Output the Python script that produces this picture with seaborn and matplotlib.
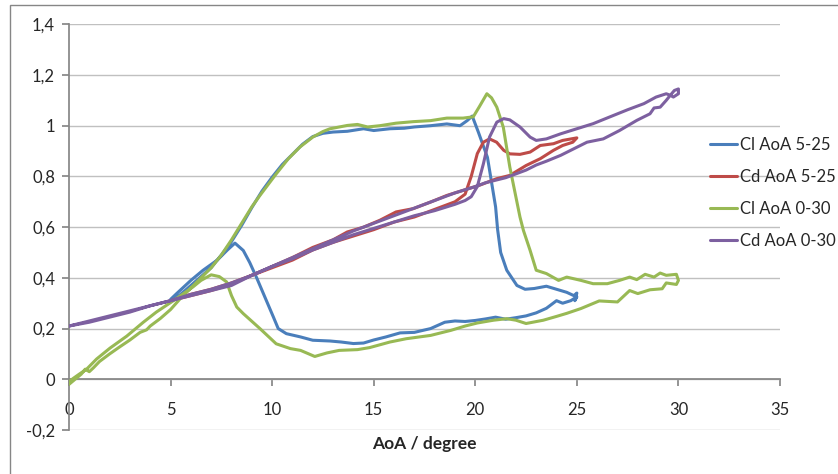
import numpy as np
import pandas as pd
import matplotlib
matplotlib.use("Agg")
import matplotlib.pyplot as plt
import seaborn as sns
from matplotlib.patches import Rectangle

# Cl, pitching 5-25 deg (blue)
cl_5_25_aoa = [5.0, 5.5, 6.0, 6.5, 7.0, 7.5, 8.0, 8.5, 9.0, 9.5, 10.0, 10.5, 11.0, 11.5,
               12.0, 12.5, 13.0, 13.7, 14.5, 15.0, 15.8, 16.5, 17.0, 17.8, 18.6, 19.25,
               19.6, 19.85, 20.15, 20.6, 21.0, 21.1, 21.25, 21.55, 22.05, 22.45, 22.9,
               23.5, 24.0, 24.5, 24.85, 25.0, 24.9, 25.0, 24.7, 24.3, 24.0, 23.5, 23.0,
               22.5, 22.0, 21.5, 21.0, 20.5, 20.0, 19.5, 19.0, 18.5, 17.8, 17.0, 16.3,
               15.6, 15.0, 14.5, 14.0, 13.4, 12.85, 12.0, 11.4, 10.7, 10.3, 10.06, 9.57,
               9.24, 8.9, 8.58, 8.17, 7.8, 7.3, 6.6, 6.0, 5.3, 5.0]
cl_5_25 = [0.305, 0.335, 0.37, 0.405, 0.44, 0.49, 0.543, 0.607, 0.677, 0.742, 0.797, 0.847,
           0.887, 0.927, 0.957, 0.97, 0.975, 0.978, 0.988, 0.981, 0.988, 0.99, 0.995, 1.0,
           1.007, 1.0, 1.02, 1.038, 0.975, 0.875, 0.68, 0.59, 0.50, 0.43, 0.37, 0.355,
           0.358, 0.367, 0.355, 0.343, 0.33, 0.34, 0.31, 0.325, 0.31, 0.30, 0.31, 0.28,
           0.262, 0.25, 0.243, 0.237, 0.245, 0.238, 0.232, 0.228, 0.23, 0.225, 0.20,
           0.185, 0.183, 0.167, 0.155, 0.143, 0.141, 0.147, 0.151, 0.154, 0.167, 0.18,
           0.20, 0.246, 0.338, 0.40, 0.46, 0.508, 0.537, 0.51, 0.47, 0.43, 0.39, 0.338,
           0.315]

# Cd, pitching 5-25 deg (red)
cd_5_25_aoa = [5.0, 6.0, 7.0, 8.0, 9.0, 10.0, 11.0, 12.0, 13.0, 14.0, 15.0, 16.0, 17.0,
               18.0, 19.0, 19.5, 19.8, 20.1, 20.4, 20.7, 21.05, 21.4, 21.7, 22.2, 22.7,
               23.2, 23.85, 24.3, 25.0, 24.8, 24.3, 23.85, 23.2, 22.5, 21.7, 21.05, 20.2,
               19.4, 18.6, 17.8, 16.95, 16.1, 15.3, 14.5, 13.7, 13.0, 12.0, 11.0, 10.0,
               9.0, 8.0, 7.0, 6.0, 5.2]
cd_5_25 = [0.31, 0.33, 0.35, 0.375, 0.41, 0.44, 0.47, 0.51, 0.54, 0.565, 0.59, 0.62,
           0.64, 0.67, 0.70, 0.73, 0.80, 0.89, 0.935, 0.948, 0.935, 0.903, 0.889, 0.887,
           0.896, 0.922, 0.929, 0.942, 0.952, 0.935, 0.922, 0.903, 0.87, 0.843, 0.804,
           0.791, 0.765, 0.745, 0.725, 0.699, 0.673, 0.66, 0.627, 0.60, 0.581, 0.55,
           0.52, 0.48, 0.445, 0.41, 0.38, 0.355, 0.335, 0.315]

# Cl, pitching 0-30 deg (green)
cl_0_30_aoa = [0.0, 0.3, 0.6, 0.8, 1.0, 1.2, 1.5, 2.0, 2.5, 3.0, 3.5, 3.82, 4.0, 4.5,
               5.0, 5.5, 6.0, 6.5, 7.0, 7.5, 8.0, 8.5, 9.0, 9.4, 10.2, 10.8, 11.37, 12.0,
               12.5, 12.85, 13.7, 14.2, 14.7, 15.3, 16.1, 16.95, 17.8, 18.6, 19.4, 19.9,
               20.2, 20.57, 20.8, 21.06, 21.38, 21.7, 22.2, 22.37, 22.7, 23.0, 23.5, 24.1,
               24.5, 25.2, 25.8, 26.5, 27.1, 27.6, 27.95, 28.36, 28.8, 29.1, 29.4, 29.9,
               30.0, 29.9, 29.4, 29.2, 28.6, 28.0, 27.6, 27.0, 26.1, 25.2, 24.5, 24.0,
               23.35, 22.5, 22.0, 21.55, 20.9, 20.1, 19.5, 18.8, 17.8, 16.6, 15.8, 14.8,
               14.2, 13.3, 12.7, 12.1, 11.4, 10.9, 10.2, 9.4, 8.58, 8.26, 8.0, 7.76, 7.4,
               7.0, 6.5, 6.1, 5.14, 4.3, 3.66, 2.84, 2.02, 1.36, 0.87, 0.5, 0.2, 0.0]
cl_0_30 = [-0.02, 0.0, 0.02, 0.04, 0.03, 0.045, 0.07, 0.10, 0.128, 0.155, 0.185, 0.195,
           0.21, 0.24, 0.275, 0.32, 0.36, 0.40, 0.44, 0.49, 0.55, 0.615, 0.68, 0.725,
           0.81, 0.87, 0.916, 0.955, 0.977, 0.988, 1.001, 1.005, 0.995, 1.0, 1.01, 1.016,
           1.02, 1.03, 1.03, 1.035, 1.075, 1.126, 1.11, 1.073, 0.994, 0.837, 0.64, 0.587,
           0.508, 0.43, 0.417, 0.39, 0.403, 0.39, 0.377, 0.377, 0.39, 0.403, 0.393, 0.414,
           0.403, 0.419, 0.41, 0.414, 0.39, 0.374, 0.38, 0.357, 0.353, 0.338, 0.35, 0.305,
           0.309, 0.279, 0.26, 0.248, 0.233, 0.22, 0.233, 0.239, 0.233, 0.222, 0.21, 0.193,
           0.173, 0.16, 0.147, 0.125, 0.117, 0.114, 0.104, 0.09, 0.114, 0.121, 0.14, 0.20,
           0.259, 0.285, 0.33, 0.384, 0.405, 0.412, 0.39, 0.364, 0.31, 0.265, 0.225, 0.17,
           0.123, 0.08, 0.04, 0.02, 0.003, -0.01]

# Cd, pitching 0-30 deg (purple)
cd_0_30_aoa = [0.0, 1.0, 2.0, 3.0, 4.0, 5.0, 6.0, 7.0, 8.0, 9.0, 10.0, 11.0, 12.0, 13.0,
               14.0, 15.0, 16.0, 17.0, 18.0, 19.0, 19.5, 19.8, 20.1, 20.4, 20.7, 21.06,
               21.4, 21.7, 22.2, 22.7, 23.0, 23.5, 24.2, 25.0, 25.8, 26.6, 27.5, 28.3,
               28.9, 29.4, 29.6, 29.8, 30.0, 30.0, 29.75, 29.6, 29.4, 29.1, 28.8, 28.6,
               27.95, 27.1, 26.3, 25.5, 24.7, 24.2, 23.5, 23.0, 22.5, 22.0, 21.5, 21.0,
               20.5, 20.0, 19.0, 18.0, 17.0, 16.0, 15.0, 14.0, 13.0, 12.0, 11.0, 10.0,
               9.0, 8.0, 7.0, 6.0, 5.0, 4.0, 3.0, 2.0, 1.0, 0.0]
cd_0_30 = [0.21, 0.225, 0.245, 0.265, 0.29, 0.31, 0.33, 0.35, 0.37, 0.41, 0.445, 0.475,
           0.51, 0.54, 0.57, 0.595, 0.62, 0.645, 0.665, 0.69, 0.705, 0.72, 0.76, 0.85,
           0.955, 1.014, 1.028, 1.023, 0.995, 0.955, 0.942, 0.948, 0.968, 0.988, 1.008,
           1.034, 1.063, 1.087, 1.113, 1.126, 1.12, 1.139, 1.145, 1.126, 1.113, 1.12,
           1.10, 1.073, 1.07, 1.047, 1.021, 0.981, 0.948, 0.935, 0.903, 0.883, 0.86,
           0.845, 0.825, 0.81, 0.795, 0.785, 0.775, 0.76, 0.735, 0.705, 0.675, 0.645,
           0.615, 0.585, 0.55, 0.515, 0.48, 0.445, 0.41, 0.38, 0.355, 0.335, 0.31, 0.29,
           0.27, 0.25, 0.23, 0.21]

series_names = ["Cl AoA 5-25", "Cd AoA 5-25", "Cl AoA 0-30", "Cd AoA 0-30"]
series_colors = ["#4A7EBB", "#BE4B48", "#98B954", "#7D60A0"]

x_ticks = [0, 5, 10, 15, 20, 25, 30, 35]
y_ticks = [-0.2, 0.0, 0.2, 0.4, 0.6, 0.8, 1.0, 1.2, 1.4]
y_tick_labels = ["-0,2", "0", "0,2", "0,4", "0,6", "0,8", "1", "1,2", "1,4"]


def main():
    sns.set_theme(style="white")
    plt.rcParams["font.family"] = ["Lato", "DejaVu Sans"]

    series = [
        (cl_5_25_aoa, cl_5_25),
        (cd_5_25_aoa, cd_5_25),
        (cl_0_30_aoa, cl_0_30),
        (cd_0_30_aoa, cd_0_30),
    ]

    fig = plt.figure(figsize=(8.38, 4.74), dpi=100)
    ax = fig.add_axes([0.0823, 0.0928, 0.8485, 0.856])

    # one call per series so later series sit on top, like the Excel original
    for i, (name, color, (aoa, coef)) in enumerate(zip(series_names, series_colors, series)):
        df = pd.DataFrame({"aoa": aoa, "coef": coef})
        sns.lineplot(data=df, x="aoa", y="coef", sort=False, estimator=None,
                     color=color, linewidth=2.2, label=name, zorder=3 + i, ax=ax)

    ax.set_xlim(0, 35)
    ax.set_ylim(-0.2, 1.4)
    ax.set_xticks(x_ticks)
    ax.set_xticklabels([str(t) for t in x_ticks])
    ax.set_yticks(y_ticks)
    ax.set_yticklabels(y_tick_labels)

    ax.yaxis.grid(True, color="#c0c0c0", linewidth=1.0)
    ax.set_axisbelow(True)
    for side in ["top", "right"]:
        ax.spines[side].set_visible(False)
    ax.spines["left"].set_color("#868686")
    ax.spines["bottom"].set_color("#868686")
    ax.spines["bottom"].set_position(("data", 0))

    ax.tick_params(axis="x", direction="out", length=5, color="#868686",
                   labelsize=12, pad=11, bottom=True)
    ax.tick_params(axis="y", direction="out", length=5, color="#868686",
                   labelsize=12, pad=5, left=True)

    ax.set_ylabel("")
    ax.set_xlabel("AoA / degree", fontsize=12.5, fontweight="bold")
    ax.xaxis.set_label_coords(0.5, -0.014)

    handles, labels = ax.get_legend_handles_labels()
    ax.legend(handles, labels, loc="center left", bbox_to_anchor=(0.8377, 0.593),
              bbox_transform=fig.transFigure, frameon=False, fontsize=12,
              handlelength=1.6, handletextpad=0.2, labelspacing=0.95, borderpad=0)

    # chart area border (left / top edges visible)
    fig.patches.append(Rectangle((9.5 / 838, -0.1), 1.2, 1.1 - 5 / 474,
                                 transform=fig.transFigure, fill=False,
                                 edgecolor="#868686", linewidth=1.0))

    fig.savefig("out.png", dpi=100)
    plt.close(fig)


if __name__ == "__main__":
    main()
